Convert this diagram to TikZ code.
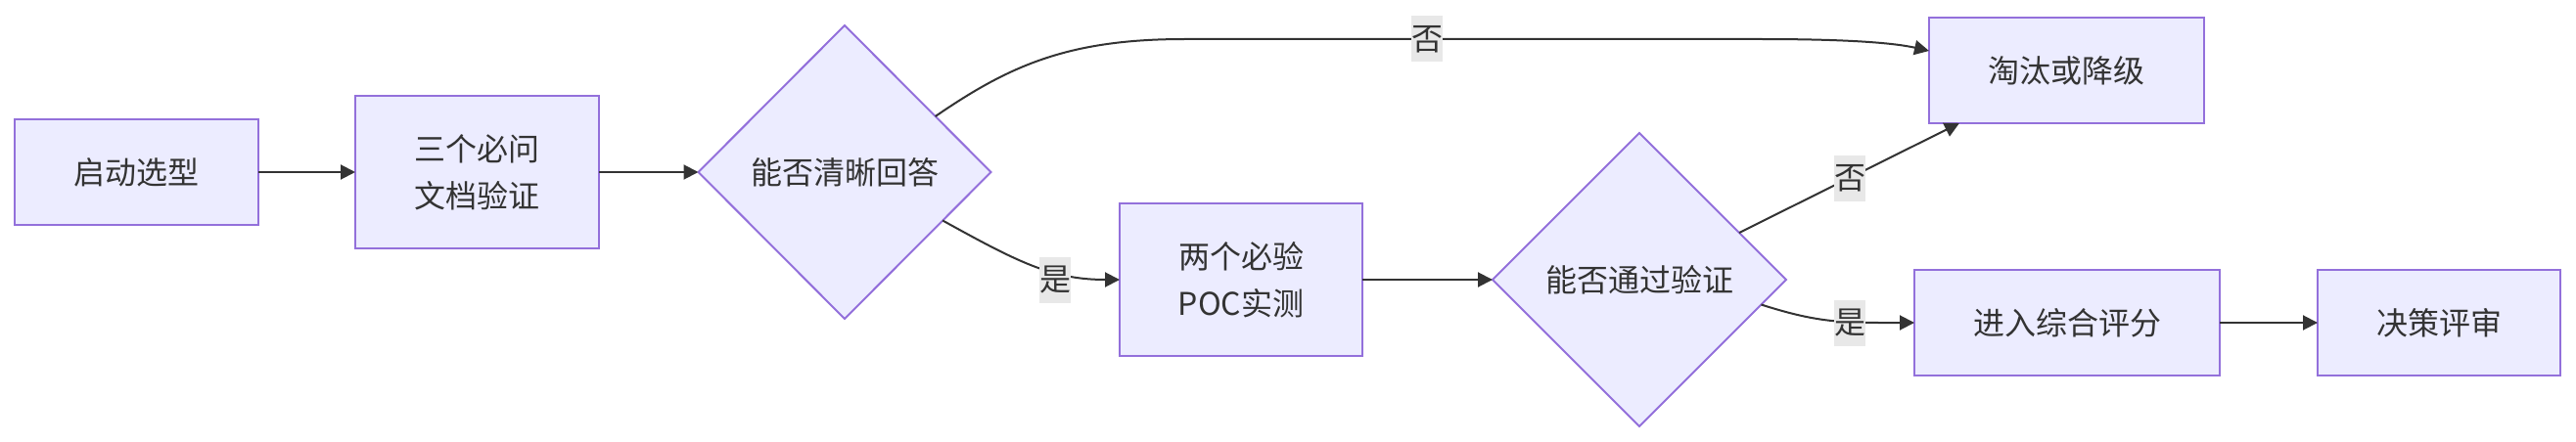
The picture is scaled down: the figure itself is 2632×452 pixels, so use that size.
\documentclass[tikz,border=0pt]{standalone}
\usepackage{fontspec}
\setmainfont{Noto Sans CJK SC}
\usetikzlibrary{shapes.geometric,arrows.meta,calc}
\definecolor{nodefill}{HTML}{ECECFF}
\definecolor{nodeborder}{HTML}{9370DB}
\definecolor{edgecol}{HTML}{333333}
\definecolor{labelbg}{HTML}{E8E8E8}
\tikzset{
  box/.style={draw=nodeborder, fill=nodefill, line width=2pt, inner sep=0pt, outer sep=0pt,
    text=edgecol, align=center, font=\fontsize{32}{48}\selectfont},
  decision/.style={box, shape=diamond, aspect=1},
  edge/.style={draw=edgecol, line width=2pt, -{Triangle[length=15pt,width=15pt]}},
  elabel/.style={fill=labelbg, inner sep=0pt, minimum width=32pt, minimum height=47pt,
    text=edgecol, font=\fontsize{32}{48}\selectfont},
}
\begin{document}
\begin{tikzpicture}[x=1pt,y=-1pt]
\useasboundingbox (0,0) rectangle (2632,452);
\node[box, minimum width=249pt, minimum height=108pt] (A) at (139.5,176) {启动选型};
\node[box, minimum width=249pt, minimum height=156pt] (B) at (487.5,176) {三个必问\\文档验证};
\node[decision, minimum width=299pt, minimum height=300pt] (C) at (863,176) {能否清晰回答};
\node[box, minimum width=281pt, minimum height=108pt] (D) at (2111.5,72) {淘汰或降级};
\node[box, minimum width=248pt, minimum height=156pt] (E) at (1268,286) {两个必验\\POC实测};
\node[decision, minimum width=300pt, minimum height=300pt] (F) at (1675,286) {能否通过验证};
\node[box, minimum width=312pt, minimum height=108pt] (G) at (2112,330) {进入综合评分};
\node[box, minimum width=248pt, minimum height=108pt] (H) at (2492,330) {决策评审};

\coordinate (Cno) at ($(C.north)!0.62!(C.east)$);
\coordinate (Cyes) at ($(C.east)!0.33!(C.south)$);
\coordinate (Fno) at ($(F.east)!0.32!(F.north)$);
\coordinate (Fyes) at ($(F.east)!0.17!(F.south)$);
\coordinate (Dbot) at ($(D.south west)!0.11!(D.south east)$);

\draw[edge] (A.east) -- (B.west);
\draw[edge] (B.east) -- (C.west);
\draw[edge] (Cno) .. controls (1030,68) and (1090,40) .. (1210,40) -- (1800,40) .. controls (1900,40) and (1940,45) .. (D.west |- 0,52);
\draw[edge] (Cyes) .. controls (1040,268) and (1075,286) .. (E.west);
\draw[edge] (E.east) -- (F.west);
\draw[edge] (Fno) -- (Dbot);
\draw[edge] (Fyes) .. controls (1860,331) and (1885,330) .. (G.west);
\draw[edge] (G.east) -- (H.west);

\node[elabel] (L1) at (1458,40) {否};
\node[elabel] (L2) at (1078,286) {是};
\node[elabel] (L3) at (1890,182) {否};
\node[elabel] (L4) at (1890,330) {是};
\end{tikzpicture}
\end{document}
